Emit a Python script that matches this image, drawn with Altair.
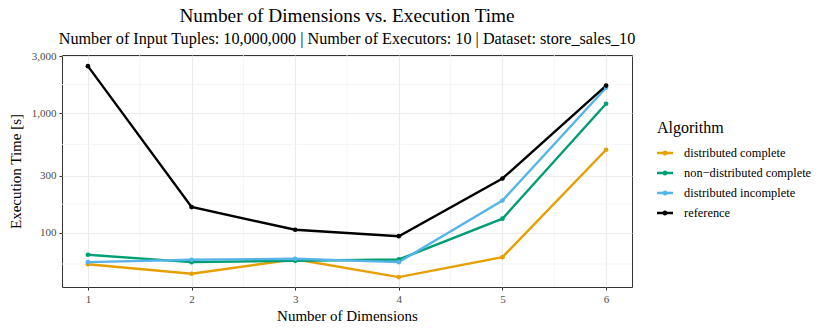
import altair as alt
import pandas as pd

dimensions = [1, 2, 3, 4, 5, 6]
algorithms = ["distributed complete", "non\u2212distributed complete", "distributed incomplete", "reference"]
colors = ["#E69F00", "#009E73", "#56B4E9", "#000000"]
dist_complete = [54.6, 45.4, 60.1, 42.6, 62.5, 494]
nondist_complete = [65.5, 56.8, 58.3, 59.8, 131, 1198]
dist_incomplete = [56.8, 59.5, 60.6, 56.8, 186, 1630]
reference = [2469, 164, 106, 93.6, 284, 1700]

y_ticks = [100, 300, 1000, 3000]
y_minor = [54.8, 173.2, 547.7, 1732]
x_minor = [1.5, 2.5, 3.5, 4.5, 5.5]

series = [dist_complete, nondist_complete, dist_incomplete, reference]
rows = []
for alg, vals in zip(algorithms, series):
    for d, v in zip(dimensions, vals):
        rows.append({"x": d, "y": v, "Algorithm": alg})
df = pd.DataFrame(rows)
df["order"] = df["Algorithm"].map({a: i for i, a in enumerate(algorithms)})

FONT = "Liberation Serif"
xscale = alt.Scale(domain=[0.75, 6.25], nice=False)
yscale = alt.Scale(type="log", domain=[35.2, 3060], nice=False)
xaxis = alt.Axis(values=dimensions, format="d", title="Number of Dimensions")
yaxis = alt.Axis(values=y_ticks, format=",", title="Execution Time [s]")
cscale = alt.Scale(domain=algorithms, range=colors)
legend = alt.Legend(
    title="Algorithm", orient="none", legendX=595, legendY=65,
    symbolType="M-1,-0.16H1V0.16H-1Z M-0.32,0A0.32,0.32 0 1,1 0.32,0A0.32,0.32 0 1,1 -0.32,0Z",
    symbolSize=256, symbolStrokeWidth=0, symbolOpacity=1,
    titleFont=FONT, titleFontSize=16, titleFontWeight="normal", titleColor="black",
    labelFont=FONT, labelFontSize=12.4, labelColor="black", labelOffset=11,
    rowPadding=5, titlePadding=9,
)
color = alt.Color("Algorithm:N", scale=cscale, sort=algorithms, legend=legend)

ymin_rules = alt.Chart(pd.DataFrame({"y": y_minor})).mark_rule(
    color="#f2f2f2", strokeWidth=0.8
).encode(y=alt.Y("y:Q", scale=yscale, axis=yaxis))
xmin_rules = alt.Chart(pd.DataFrame({"x": x_minor})).mark_rule(
    color="#f2f2f2", strokeWidth=0.8
).encode(x=alt.X("x:Q", scale=xscale, axis=xaxis))

lines = alt.Chart(df).mark_line(strokeWidth=2.4).encode(
    x=alt.X("x:Q", scale=xscale, axis=xaxis),
    y=alt.Y("y:Q", scale=yscale, axis=yaxis),
    color=color,
    detail="order:O",
)
points = alt.Chart(df).mark_point(filled=True, size=22, opacity=1).encode(
    x=alt.X("x:Q", scale=xscale, axis=xaxis),
    y=alt.Y("y:Q", scale=yscale, axis=yaxis),
    color=color,
)

chart = alt.layer(ymin_rules, xmin_rules, lines, points).properties(
    width=570, height=232,
    autosize=alt.AutoSizeParams(type="none"),
    padding={"left": 54, "top": 47, "right": 190, "bottom": 37},
    title=alt.TitleParams(
        text="Number of Dimensions vs. Execution Time",
        subtitle="Number of Input Tuples: 10,000,000 | Number of Executors: 10 | Dataset: store_sales_10",
        anchor="middle", frame="group", font=FONT, fontSize=19.3, fontWeight="normal", color="black",
        subtitleFont=FONT, subtitleFontSize=16.2, subtitleColor="black", subtitlePadding=5, offset=3,
    ),
).configure_view(
    stroke="#333333", strokeWidth=1
).configure_axis(
    domain=False, gridColor="#ebebeb", gridWidth=1.1, tickColor="#333333", tickSize=3,
    labelFont=FONT, labelFontSize=11, labelColor="#4d4d4d",
    titleFont=FONT, titleFontSize=15, titleFontWeight="normal", titleColor="black",
    labelPadding=3,
).configure_axisX(titlePadding=4).configure_axisY(titlePadding=8)

chart.save("out.html", embed_options={"renderer": "svg", "actions": False})
